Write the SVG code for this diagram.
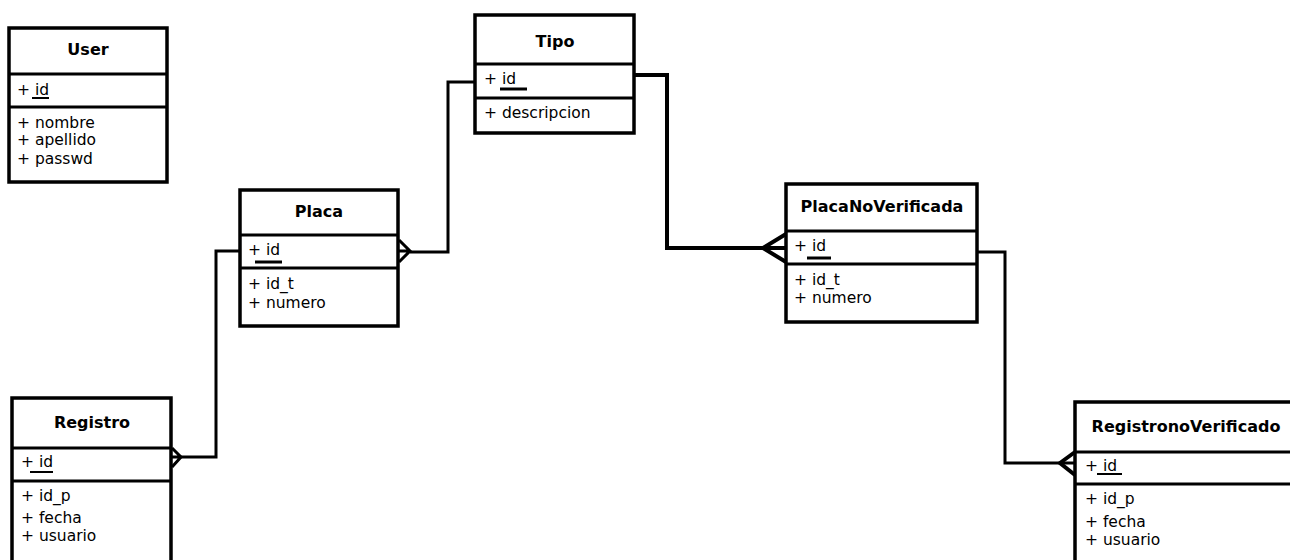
<svg xmlns="http://www.w3.org/2000/svg" width="1290" height="560" viewBox="0 0 1290 560">
<style>
.box{fill:#fff;stroke:#000;stroke-width:3.5}
.div{stroke:#000;stroke-width:3}
.t{font-family:"DejaVu Sans",Verdana,sans-serif;font-size:16px;font-weight:bold;text-anchor:middle;fill:#000}
.a{font-family:"DejaVu Sans",Verdana,sans-serif;font-size:15.5px;fill:#000}
.ul{stroke:#000;stroke-width:2}
.ulk{stroke:#000;stroke-width:3}
.c{fill:none;stroke:#000;stroke-width:3;stroke-linejoin:miter}
.ck{fill:none;stroke:#000;stroke-width:4;stroke-linejoin:miter}
</style>
<rect width="1290" height="560" fill="#fff"/>
<g id="connectors">
<path class="c" d="M475,82 H448 V252 H410"/>
<path class="c" d="M399,240 L410,251 L399,262 M399,251 H410"/>
<path class="c" d="M240,251 H216 V457 H181"/>
<path class="c" d="M172,448 L181,457 L172,467 M172,457 H181"/>
<path class="ck" d="M635,75 H667 V248 H786"/>
<path class="ck" d="M786,234 L763,248 L786,262"/>
<path class="c" d="M977,252 H1005 V463 H1075"/>
<path class="ck" d="M1075,452 L1060,463 L1075,475"/>
</g>
<g id="User">
<rect class="box" x="9" y="28" width="158" height="154"/>
<line class="div" x1="9" y1="74" x2="167" y2="74"/>
<line class="div" x1="9" y1="107" x2="167" y2="107"/>
<text class="t" x="88" y="55">User</text>
<text class="a" x="17" y="95">+ id</text>
<line class="ul" x1="32" y1="98" x2="49" y2="98"/>
<text class="a" x="17" y="128">+ nombre</text>
<text class="a" x="17" y="145">+ apellido</text>
<text class="a" x="17" y="164">+ passwd</text>
</g>
<g id="Tipo">
<rect class="box" x="475" y="15" width="159" height="118"/>
<line class="div" x1="475" y1="64" x2="634" y2="64"/>
<line class="div" x1="475" y1="98" x2="634" y2="98"/>
<text class="t" x="555" y="47">Tipo</text>
<text class="a" x="484" y="84">+ id</text>
<line class="ulk" x1="500" y1="89" x2="527" y2="89"/>
<text class="a" x="484" y="118">+ descripcion</text>
</g>
<g id="Placa">
<rect class="box" x="240" y="190" width="158" height="136"/>
<line class="div" x1="240" y1="235" x2="398" y2="235"/>
<line class="div" x1="240" y1="268" x2="398" y2="268"/>
<text class="t" x="319" y="217">Placa</text>
<text class="a" x="248" y="255">+ id</text>
<line class="ulk" x1="255" y1="262" x2="282" y2="262"/>
<text class="a" x="248" y="289">+ id_t</text>
<text class="a" x="248" y="308">+ numero</text>
</g>
<g id="PlacaNoVerificada">
<rect class="box" x="786" y="184" width="191" height="138"/>
<line class="div" x1="786" y1="231" x2="977" y2="231"/>
<line class="div" x1="786" y1="264" x2="977" y2="264"/>
<text class="t" x="882" y="212">PlacaNoVerificada</text>
<text class="a" x="794" y="251">+ id</text>
<line class="ulk" x1="807" y1="258" x2="831" y2="258"/>
<text class="a" x="794" y="285">+ id_t</text>
<text class="a" x="794" y="303">+ numero</text>
</g>
<g id="Registro">
<rect class="box" x="12" y="398" width="159" height="170"/>
<line class="div" x1="12" y1="448" x2="171" y2="448"/>
<line class="div" x1="12" y1="481" x2="171" y2="481"/>
<text class="t" x="92" y="428">Registro</text>
<text class="a" x="21" y="467">+ id</text>
<line class="ul" x1="30" y1="472" x2="53" y2="472"/>
<text class="a" x="21" y="501">+ id_p</text>
<text class="a" x="21" y="523">+ fecha</text>
<text class="a" x="21" y="541">+ usuario</text>
</g>
<g id="RegistronoVerificado">
<rect class="box" x="1075" y="402" width="230" height="170"/>
<line class="div" x1="1075" y1="452" x2="1305" y2="452"/>
<line class="div" x1="1075" y1="484" x2="1305" y2="484"/>
<text class="t" x="1186" y="432">RegistronoVerificado</text>
<text class="a" x="1085" y="471">+ id</text>
<line class="ul" x1="1097" y1="474" x2="1122" y2="474"/>
<text class="a" x="1085" y="504">+ id_p</text>
<text class="a" x="1085" y="527">+ fecha</text>
<text class="a" x="1085" y="545">+ usuario</text>
</g>
</svg>
